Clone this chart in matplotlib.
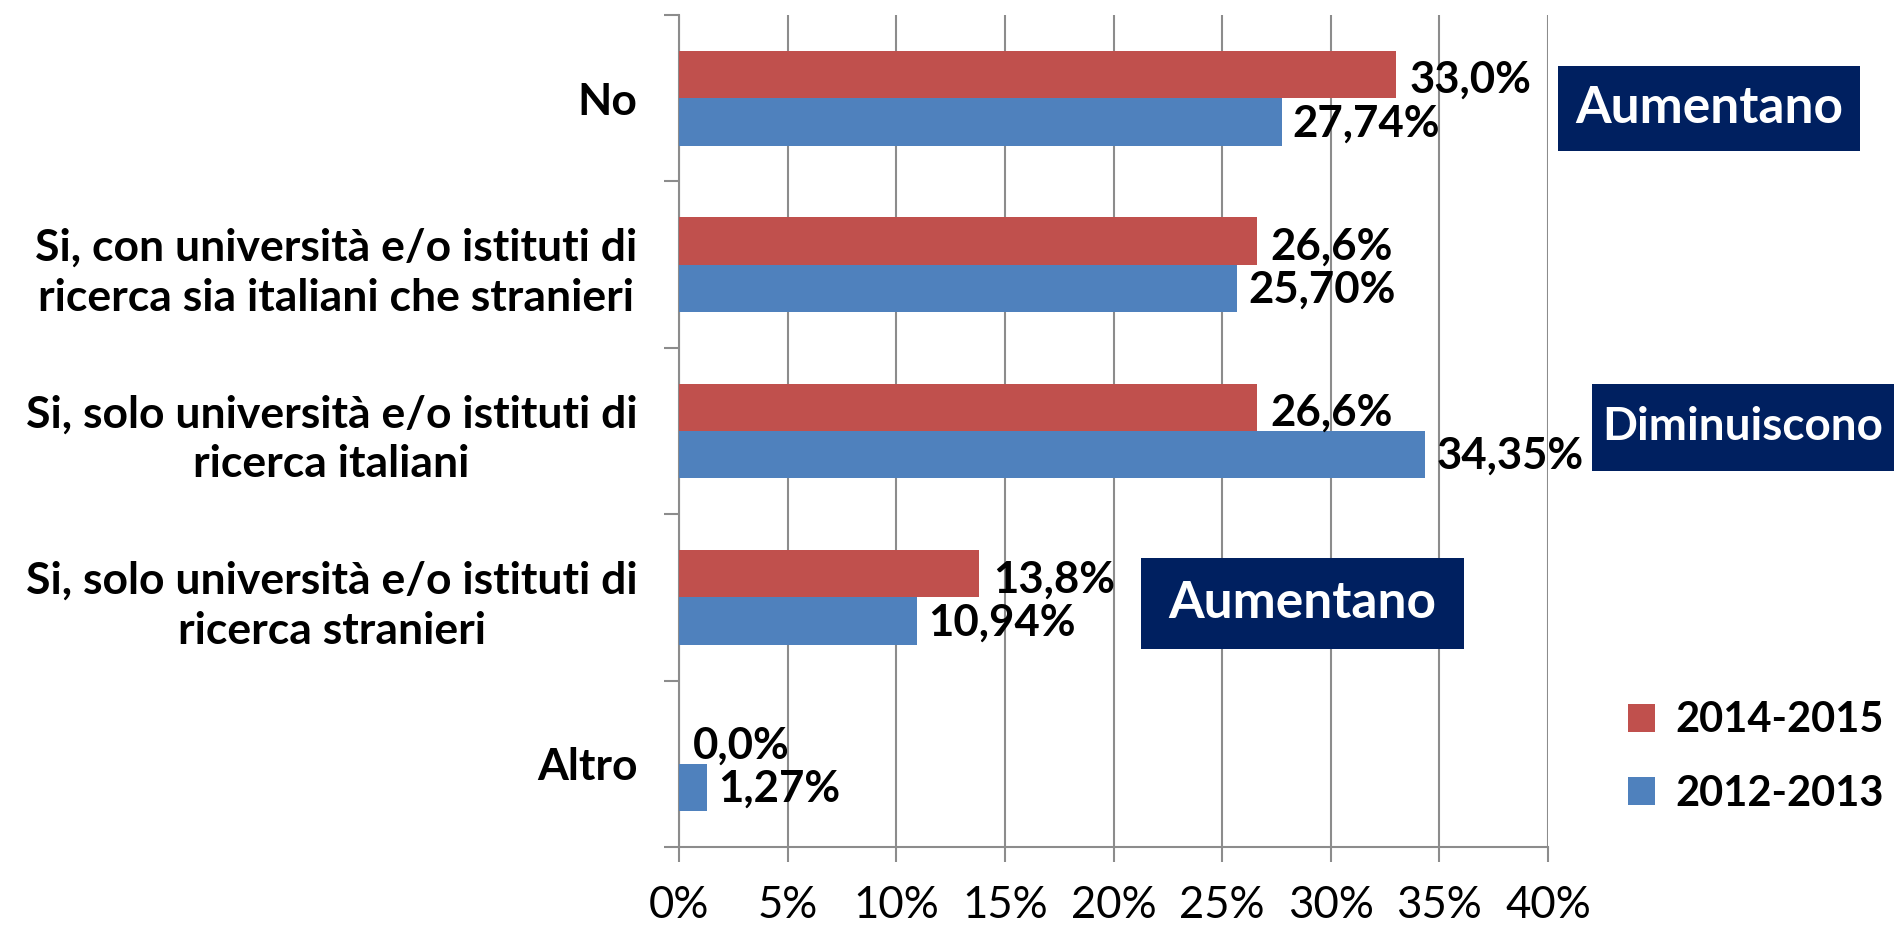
import numpy as np
import matplotlib
matplotlib.use('Agg')
import matplotlib.pyplot as plt
from matplotlib.patches import Rectangle, Patch

plt.rcParams['font.family'] = ['Lato', 'DejaVu Sans']

# Data
categories = ['No',
              'Si, con università e/o istituti di\nricerca sia italiani che stranieri',
              'Si, solo università e/o istituti di\nricerca italiani',
              'Si, solo università e/o istituti di\nricerca stranieri',
              'Altro']
vals_1415 = [33.0, 26.6, 26.6, 13.8, 0.0]
vals_1213 = [27.74, 25.70, 34.35, 10.94, 1.27]
labels_1415 = ['33,0%', '26,6%', '26,6%', '13,8%', '0,0%']
labels_1213 = ['27,74%', '25,70%', '34,35%', '10,94%', '1,27%']
series_names = ['2014-2015', '2012-2013']
x_ticks = [0, 5, 10, 15, 20, 25, 30, 35, 40]

red = '#C0504D'
blue = '#4F81BD'
grid_col = '#8C8C8C'
navy = '#002060'

fig = plt.figure(figsize=(18.94, 9.25), dpi=100)
ax = fig.add_axes([679 / 1894, 1 - 847 / 925, 869 / 1894, 832 / 925])

y = np.arange(len(categories))
h = 0.285
ax.barh(y - h / 2, vals_1415, height=h, color=red, zorder=3)
ax.barh(y + h / 2, vals_1213, height=h, color=blue, zorder=3)

# value labels
for yi, v, s in zip(y, vals_1415, labels_1415):
    ax.annotate(s, (v, yi - h / 2), xytext=(10, -4), textcoords='offset points',
                ha='left', va='center', fontsize=31.5, fontweight='bold')
for yi, v, s in zip(y, vals_1213, labels_1213):
    ax.annotate(s, (v, yi + h / 2), xytext=(8, -1), textcoords='offset points',
                ha='left', va='center', fontsize=31.5, fontweight='bold')

ax.set_xlim(0, 40)
ax.set_ylim(len(categories) - 0.5, -0.5)
ax.set_xticks(x_ticks)
ax.set_xticklabels([f'{t}%' for t in x_ticks], fontsize=31.5)
ax.xaxis.grid(True, color=grid_col, linewidth=1.5, zorder=0)

ax.set_yticks(y)
ax.set_yticklabels(categories, fontsize=32, fontweight='bold')
for lab in ax.get_yticklabels():
    lab.set_multialignment('center')
    lab.set_linespacing(1.3)
ax.set_yticks(np.arange(-0.5, len(categories)), minor=True)
ax.tick_params(axis='y', which='major', length=0, pad=30)
ax.tick_params(axis='y', which='minor', length=11, width=1.5, color=grid_col, direction='out')
ax.tick_params(axis='x', length=11, width=1.5, color=grid_col, pad=16)

for sp in ['top', 'right']:
    ax.spines[sp].set_visible(False)
for sp in ['left', 'bottom']:
    ax.spines[sp].set_color(grid_col)
    ax.spines[sp].set_linewidth(1.5)

# annotation boxes
boxes = [(1558, 66, 1860, 151, 'Aumentano', 37),
         (1592, 384, 1894, 471, 'Diminuiscono', 33),
         (1141, 558, 1464, 649, 'Aumentano', 37)]
W, H = 1894, 925
for x0, y0, x1, y1, txt, fs in boxes:
    fig.add_artist(Rectangle((x0 / W, 1 - y1 / H), (x1 - x0) / W, (y1 - y0) / H,
                             transform=fig.transFigure, facecolor=navy, edgecolor='none'))
    fig.text((x0 + x1) / 2 / W, 1 - (y0 + y1) / 2 / H, txt, color='white',
             fontsize=fs, fontweight='bold', ha='center', va='center')

handles = [Patch(facecolor=red), Patch(facecolor=blue)]
fig.legend(handles, series_names, loc='center left',
           bbox_to_anchor=(1590 / W, 1 - 757 / H), frameon=False,
           prop={'size': 30, 'weight': 'bold'}, handlelength=0.65, handleheight=0.65,
           handletextpad=0.5, labelspacing=0.85)

fig.savefig('out.png', dpi=100)
